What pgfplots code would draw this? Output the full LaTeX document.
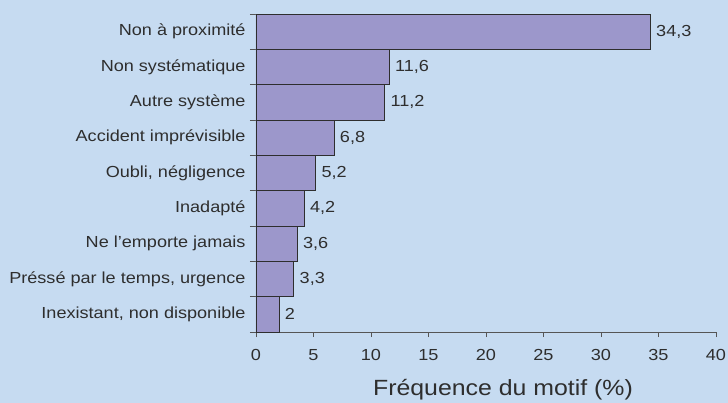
\documentclass[border=0pt]{standalone}
\usepackage{fontspec}
\setmainfont{Liberation Sans}[FakeStretch=1.13]
\usepackage{pgfplots}
\pgfplotsset{compat=1.18}
\definecolor{bg}{HTML}{C6DBF1}
\definecolor{barc}{HTML}{9C97CB}
\definecolor{txt}{HTML}{2E2E2E}
\definecolor{axc}{HTML}{555555}
\begin{document}
\begin{tikzpicture}
\fill[bg] (-256bp,-71bp) rectangle (472bp,332bp);
\begin{axis}[
  at={(0,0)}, anchor=south west,
  scale only axis,
  width=460bp, height=318bp,
  xmin=0, xmax=40, ymin=-0.5, ymax=8.5,
  axis x line*=bottom, axis y line*=left,
  axis line style={axc, line width=0.9pt},
  xtick={0,5,...,40},
  ytick={0,...,8},
  yticklabels={{Inexistant, non disponible},{Préssé par le temps, urgence},{Ne l'emporte jamais},{Inadapté},{Oubli, négligence},{Accident imprévisible},{Autre système},{Non systématique},{Non à proximité}},
  minor ytick={-0.5,0.5,...,8.5},
  major y tick style={draw=none},
  minor y tick style={axc, line width=0.9pt},
  x tick style={axc, line width=0.9pt},
  tick align=outside,
  major tick length=5bp, minor tick length=6bp,
  /pgf/number format/assume math mode=true,
  /pgf/number format/use comma,
  ticklabel style={font=\fontsize{16bp}{18bp}\selectfont, text=txt},
  yticklabel style={xshift=-2bp},
  xticklabel style={yshift=-9bp},
  xlabel={Fréquence du motif (\%)},
  xlabel style={font=\fontsize{22bp}{25bp}\selectfont, text=txt, xshift=17bp, yshift=-12bp},
  clip=false,
]
\addplot[xbar, bar width=35.33bp, fill=barc, draw=txt, line width=0.9pt,
  nodes near coords, nodes near coords align={horizontal},
  every node near coord/.append style={font=\fontsize{16bp}{18bp}\selectfont, text=txt, xshift=2bp}]
  coordinates {(2,0) (3.3,1) (3.6,2) (4.2,3) (5.2,4) (6.8,5) (11.2,6) (11.6,7) (34.3,8)};
\end{axis}
\pgfresetboundingbox
\path (-256bp,-71bp) rectangle (472bp,332bp);
\end{tikzpicture}
\end{document}
